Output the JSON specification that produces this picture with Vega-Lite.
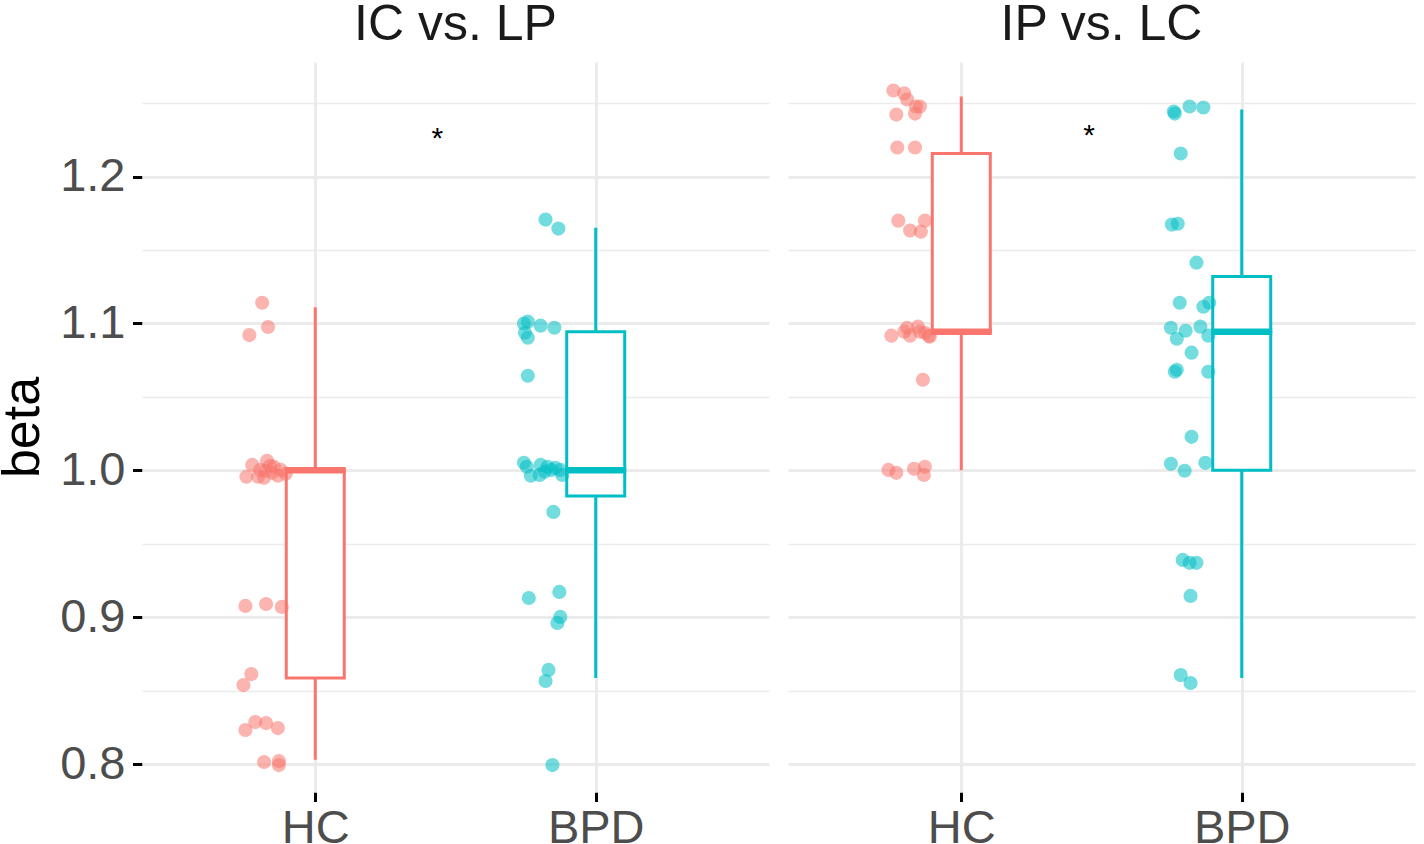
{
  "$schema": "https://vega.github.io/schema/vega-lite/v6.json",
  "background": "white",
  "padding": {"left": -4, "top": 0, "right": 8, "bottom": 0},
  "data": {
    "values": [
      {"kind": "point", "panel": "IC vs. LP", "group": "HC", "x": 0.8105, "beta": 1.1141},
      {"kind": "point", "panel": "IC vs. LP", "group": "HC", "x": 0.8316, "beta": 1.0976},
      {"kind": "point", "panel": "IC vs. LP", "group": "HC", "x": 0.7649, "beta": 1.0921},
      {"kind": "point", "panel": "IC vs. LP", "group": "HC", "x": 0.7544, "beta": 0.9956},
      {"kind": "point", "panel": "IC vs. LP", "group": "HC", "x": 0.7754, "beta": 1.0037},
      {"kind": "point", "panel": "IC vs. LP", "group": "HC", "x": 0.7965, "beta": 0.9956},
      {"kind": "point", "panel": "IC vs. LP", "group": "HC", "x": 0.8035, "beta": 1.0003},
      {"kind": "point", "panel": "IC vs. LP", "group": "HC", "x": 0.8211, "beta": 0.9997},
      {"kind": "point", "panel": "IC vs. LP", "group": "HC", "x": 0.8281, "beta": 1.0065},
      {"kind": "point", "panel": "IC vs. LP", "group": "HC", "x": 0.8386, "beta": 1.0031},
      {"kind": "point", "panel": "IC vs. LP", "group": "HC", "x": 0.8456, "beta": 0.9983},
      {"kind": "point", "panel": "IC vs. LP", "group": "HC", "x": 0.8526, "beta": 1.0024},
      {"kind": "point", "panel": "IC vs. LP", "group": "HC", "x": 0.8667, "beta": 0.9963},
      {"kind": "point", "panel": "IC vs. LP", "group": "HC", "x": 0.8772, "beta": 1.0003},
      {"kind": "point", "panel": "IC vs. LP", "group": "HC", "x": 0.8947, "beta": 0.9976},
      {"kind": "point", "panel": "IC vs. LP", "group": "HC", "x": 0.8175, "beta": 0.9949},
      {"kind": "point", "panel": "IC vs. LP", "group": "HC", "x": 0.7509, "beta": 0.9077},
      {"kind": "point", "panel": "IC vs. LP", "group": "HC", "x": 0.8246, "beta": 0.9090},
      {"kind": "point", "panel": "IC vs. LP", "group": "HC", "x": 0.8807, "beta": 0.9070},
      {"kind": "point", "panel": "IC vs. LP", "group": "HC", "x": 0.7719, "beta": 0.8613},
      {"kind": "point", "panel": "IC vs. LP", "group": "HC", "x": 0.7439, "beta": 0.8538},
      {"kind": "point", "panel": "IC vs. LP", "group": "HC", "x": 0.7509, "beta": 0.8232},
      {"kind": "point", "panel": "IC vs. LP", "group": "HC", "x": 0.7860, "beta": 0.8286},
      {"kind": "point", "panel": "IC vs. LP", "group": "HC", "x": 0.8246, "beta": 0.8279},
      {"kind": "point", "panel": "IC vs. LP", "group": "HC", "x": 0.8667, "beta": 0.8245},
      {"kind": "point", "panel": "IC vs. LP", "group": "HC", "x": 0.8175, "beta": 0.8014},
      {"kind": "point", "panel": "IC vs. LP", "group": "HC", "x": 0.8702, "beta": 0.8020},
      {"kind": "point", "panel": "IC vs. LP", "group": "HC", "x": 0.8702, "beta": 0.7993},
      {"kind": "point", "panel": "IC vs. LP", "group": "BPD", "x": 1.8211, "beta": 1.1707},
      {"kind": "point", "panel": "IC vs. LP", "group": "BPD", "x": 1.8667, "beta": 1.1646},
      {"kind": "point", "panel": "IC vs. LP", "group": "BPD", "x": 1.7439, "beta": 1.1000},
      {"kind": "point", "panel": "IC vs. LP", "group": "BPD", "x": 1.7579, "beta": 1.1012},
      {"kind": "point", "panel": "IC vs. LP", "group": "BPD", "x": 1.7474, "beta": 1.0937},
      {"kind": "point", "panel": "IC vs. LP", "group": "BPD", "x": 1.7579, "beta": 1.0903},
      {"kind": "point", "panel": "IC vs. LP", "group": "BPD", "x": 1.8035, "beta": 1.0985},
      {"kind": "point", "panel": "IC vs. LP", "group": "BPD", "x": 1.8526, "beta": 1.0971},
      {"kind": "point", "panel": "IC vs. LP", "group": "BPD", "x": 1.7579, "beta": 1.0644},
      {"kind": "point", "panel": "IC vs. LP", "group": "BPD", "x": 1.7439, "beta": 1.0051},
      {"kind": "point", "panel": "IC vs. LP", "group": "BPD", "x": 1.7544, "beta": 1.0024},
      {"kind": "point", "panel": "IC vs. LP", "group": "BPD", "x": 1.7684, "beta": 0.9963},
      {"kind": "point", "panel": "IC vs. LP", "group": "BPD", "x": 1.8035, "beta": 1.0037},
      {"kind": "point", "panel": "IC vs. LP", "group": "BPD", "x": 1.8175, "beta": 0.9990},
      {"kind": "point", "panel": "IC vs. LP", "group": "BPD", "x": 1.8281, "beta": 1.0024},
      {"kind": "point", "panel": "IC vs. LP", "group": "BPD", "x": 1.8421, "beta": 1.0003},
      {"kind": "point", "panel": "IC vs. LP", "group": "BPD", "x": 1.8561, "beta": 1.0017},
      {"kind": "point", "panel": "IC vs. LP", "group": "BPD", "x": 1.8737, "beta": 1.0003},
      {"kind": "point", "panel": "IC vs. LP", "group": "BPD", "x": 1.8807, "beta": 0.9969},
      {"kind": "point", "panel": "IC vs. LP", "group": "BPD", "x": 1.8000, "beta": 0.9969},
      {"kind": "point", "panel": "IC vs. LP", "group": "BPD", "x": 1.8491, "beta": 0.9717},
      {"kind": "point", "panel": "IC vs. LP", "group": "BPD", "x": 1.7614, "beta": 0.9131},
      {"kind": "point", "panel": "IC vs. LP", "group": "BPD", "x": 1.8702, "beta": 0.9172},
      {"kind": "point", "panel": "IC vs. LP", "group": "BPD", "x": 1.8737, "beta": 0.9002},
      {"kind": "point", "panel": "IC vs. LP", "group": "BPD", "x": 1.8632, "beta": 0.8961},
      {"kind": "point", "panel": "IC vs. LP", "group": "BPD", "x": 1.8316, "beta": 0.8641},
      {"kind": "point", "panel": "IC vs. LP", "group": "BPD", "x": 1.8211, "beta": 0.8566},
      {"kind": "point", "panel": "IC vs. LP", "group": "BPD", "x": 1.8456, "beta": 0.7993},
      {"kind": "point", "panel": "IP vs. LC", "group": "HC", "x": 0.7579, "beta": 1.2586},
      {"kind": "point", "panel": "IP vs. LC", "group": "HC", "x": 0.7965, "beta": 1.2566},
      {"kind": "point", "panel": "IP vs. LC", "group": "HC", "x": 0.8070, "beta": 1.2525},
      {"kind": "point", "panel": "IP vs. LC", "group": "HC", "x": 0.8386, "beta": 1.2477},
      {"kind": "point", "panel": "IP vs. LC", "group": "HC", "x": 0.8526, "beta": 1.2477},
      {"kind": "point", "panel": "IP vs. LC", "group": "HC", "x": 0.7684, "beta": 1.2422},
      {"kind": "point", "panel": "IP vs. LC", "group": "HC", "x": 0.8351, "beta": 1.2429},
      {"kind": "point", "panel": "IP vs. LC", "group": "HC", "x": 0.7719, "beta": 1.2198},
      {"kind": "point", "panel": "IP vs. LC", "group": "HC", "x": 0.8351, "beta": 1.2198},
      {"kind": "point", "panel": "IP vs. LC", "group": "HC", "x": 0.7754, "beta": 1.1700},
      {"kind": "point", "panel": "IP vs. LC", "group": "HC", "x": 0.8175, "beta": 1.1632},
      {"kind": "point", "panel": "IP vs. LC", "group": "HC", "x": 0.8561, "beta": 1.1625},
      {"kind": "point", "panel": "IP vs. LC", "group": "HC", "x": 0.8702, "beta": 1.1700},
      {"kind": "point", "panel": "IP vs. LC", "group": "HC", "x": 0.7509, "beta": 1.0917},
      {"kind": "point", "panel": "IP vs. LC", "group": "HC", "x": 0.7965, "beta": 1.0944},
      {"kind": "point", "panel": "IP vs. LC", "group": "HC", "x": 0.8070, "beta": 1.0971},
      {"kind": "point", "panel": "IP vs. LC", "group": "HC", "x": 0.8175, "beta": 1.0917},
      {"kind": "point", "panel": "IP vs. LC", "group": "HC", "x": 0.8456, "beta": 1.0978},
      {"kind": "point", "panel": "IP vs. LC", "group": "HC", "x": 0.8526, "beta": 1.0944},
      {"kind": "point", "panel": "IP vs. LC", "group": "HC", "x": 0.8702, "beta": 1.0937},
      {"kind": "point", "panel": "IP vs. LC", "group": "HC", "x": 0.8842, "beta": 1.0917},
      {"kind": "point", "panel": "IP vs. LC", "group": "HC", "x": 0.8877, "beta": 1.0910},
      {"kind": "point", "panel": "IP vs. LC", "group": "HC", "x": 0.8632, "beta": 1.0617},
      {"kind": "point", "panel": "IP vs. LC", "group": "HC", "x": 0.7404, "beta": 1.0003},
      {"kind": "point", "panel": "IP vs. LC", "group": "HC", "x": 0.7684, "beta": 0.9983},
      {"kind": "point", "panel": "IP vs. LC", "group": "HC", "x": 0.8316, "beta": 1.0010},
      {"kind": "point", "panel": "IP vs. LC", "group": "HC", "x": 0.8702, "beta": 1.0024},
      {"kind": "point", "panel": "IP vs. LC", "group": "HC", "x": 0.8667, "beta": 0.9969},
      {"kind": "point", "panel": "IP vs. LC", "group": "BPD", "x": 1.7579, "beta": 1.2443},
      {"kind": "point", "panel": "IP vs. LC", "group": "BPD", "x": 1.7614, "beta": 1.2429},
      {"kind": "point", "panel": "IP vs. LC", "group": "BPD", "x": 1.8140, "beta": 1.2477},
      {"kind": "point", "panel": "IP vs. LC", "group": "BPD", "x": 1.8632, "beta": 1.2470},
      {"kind": "point", "panel": "IP vs. LC", "group": "BPD", "x": 1.7825, "beta": 1.2157},
      {"kind": "point", "panel": "IP vs. LC", "group": "BPD", "x": 1.7509, "beta": 1.1673},
      {"kind": "point", "panel": "IP vs. LC", "group": "BPD", "x": 1.7719, "beta": 1.1679},
      {"kind": "point", "panel": "IP vs. LC", "group": "BPD", "x": 1.8386, "beta": 1.1414},
      {"kind": "point", "panel": "IP vs. LC", "group": "BPD", "x": 1.7789, "beta": 1.1141},
      {"kind": "point", "panel": "IP vs. LC", "group": "BPD", "x": 1.8632, "beta": 1.1114},
      {"kind": "point", "panel": "IP vs. LC", "group": "BPD", "x": 1.8842, "beta": 1.1141},
      {"kind": "point", "panel": "IP vs. LC", "group": "BPD", "x": 1.7474, "beta": 1.0971},
      {"kind": "point", "panel": "IP vs. LC", "group": "BPD", "x": 1.7684, "beta": 1.0896},
      {"kind": "point", "panel": "IP vs. LC", "group": "BPD", "x": 1.8000, "beta": 1.0950},
      {"kind": "point", "panel": "IP vs. LC", "group": "BPD", "x": 1.8526, "beta": 1.0978},
      {"kind": "point", "panel": "IP vs. LC", "group": "BPD", "x": 1.8807, "beta": 1.0917},
      {"kind": "point", "panel": "IP vs. LC", "group": "BPD", "x": 1.8211, "beta": 1.0801},
      {"kind": "point", "panel": "IP vs. LC", "group": "BPD", "x": 1.7614, "beta": 1.0671},
      {"kind": "point", "panel": "IP vs. LC", "group": "BPD", "x": 1.7684, "beta": 1.0685},
      {"kind": "point", "panel": "IP vs. LC", "group": "BPD", "x": 1.8807, "beta": 1.0671},
      {"kind": "point", "panel": "IP vs. LC", "group": "BPD", "x": 1.8211, "beta": 1.0228},
      {"kind": "point", "panel": "IP vs. LC", "group": "BPD", "x": 1.7474, "beta": 1.0044},
      {"kind": "point", "panel": "IP vs. LC", "group": "BPD", "x": 1.7965, "beta": 0.9997},
      {"kind": "point", "panel": "IP vs. LC", "group": "BPD", "x": 1.8702, "beta": 1.0051},
      {"kind": "point", "panel": "IP vs. LC", "group": "BPD", "x": 1.7895, "beta": 0.9390},
      {"kind": "point", "panel": "IP vs. LC", "group": "BPD", "x": 1.8140, "beta": 0.9370},
      {"kind": "point", "panel": "IP vs. LC", "group": "BPD", "x": 1.8386, "beta": 0.9370},
      {"kind": "point", "panel": "IP vs. LC", "group": "BPD", "x": 1.8175, "beta": 0.9145},
      {"kind": "point", "panel": "IP vs. LC", "group": "BPD", "x": 1.7825, "beta": 0.8606},
      {"kind": "point", "panel": "IP vs. LC", "group": "BPD", "x": 1.8175, "beta": 0.8552},
      {"kind": "box", "panel": "IC vs. LP", "group": "HC", "x": 1, "lower": 0.803, "q1": 0.8586, "median": 1.0, "q3": 1.0, "upper": 1.111},
      {"kind": "box", "panel": "IC vs. LP", "group": "BPD", "x": 2, "lower": 0.8586, "q1": 0.9826, "median": 1.0, "q3": 1.0944, "upper": 1.1652},
      {"kind": "box", "panel": "IP vs. LC", "group": "HC", "x": 1, "lower": 1.0, "q1": 1.0944, "median": 1.0944, "q3": 1.2157, "upper": 1.2545},
      {"kind": "box", "panel": "IP vs. LC", "group": "BPD", "x": 2, "lower": 0.8586, "q1": 1.0, "median": 1.0944, "q3": 1.1319, "upper": 1.2457},
      {"kind": "star", "panel": "IC vs. LP", "x": 1.435, "beta": 1.229, "label": "*"},
      {"kind": "star", "panel": "IP vs. LC", "x": 1.456, "beta": 1.231, "label": "*"}
    ]
  },
  "facet": {
    "column": {
      "field": "panel",
      "type": "nominal",
      "sort": ["IC vs. LP", "IP vs. LC"],
      "header": {
        "title": null,
        "labelFontSize": 50,
        "labelFont": "Liberation Sans",
        "labelColor": "#1A1A1A",
        "labelPadding": 12
      }
    }
  },
  "spacing": 19,
  "spec": {
    "width": 627,
    "height": 730,
    "layer": [
      {
        "transform": [{"filter": "datum.kind == 'box'"}],
        "mark": {"type": "rule", "strokeWidth": 3},
        "encoding": {
          "x": {
            "field": "x",
            "type": "quantitative",
            "scale": {"domain": [0.4, 2.6], "nice": false, "zero": false},
            "axis": {
              "title": null,
              "values": [1, 2],
              "labelExpr": "datum.value == 1 ? 'HC' : 'BPD'",
              "gridWidth": 3,
              "labelFlush": false,
              "labelPadding": 4
            }
          },
          "y": {
            "field": "lower",
            "type": "quantitative",
            "scale": {"domain": [0.781, 1.278], "nice": false, "zero": false},
            "axis": {
              "title": "beta",
              "values": [0.8, 0.85, 0.9, 0.95, 1.0, 1.05, 1.1, 1.15, 1.2, 1.25],
              "labelExpr": "abs(datum.value*10 - round(datum.value*10)) < 0.001 ? format(datum.value, '.1f') : ''",
              "gridWidth": {"condition": {"test": "abs(datum.value*10 - round(datum.value*10)) < 0.001", "value": 3}, "value": 1.5},
              "tickOpacity": {"condition": {"test": "abs(datum.value*10 - round(datum.value*10)) < 0.001", "value": 1}, "value": 0},
              "labelOverlap": false,
              "labelFlush": false,
              "labelPadding": 7.5,
              "titlePadding": 10
            }
          },
          "y2": {"field": "upper"},
          "color": {"field": "group", "type": "nominal", "scale": {"domain": ["HC", "BPD"], "range": ["#F8766D", "#00BFC4"]}, "legend": null}
        }
      },
      {
        "transform": [{"filter": "datum.kind == 'box'"}],
        "mark": {"type": "bar", "size": 58, "fill": "white", "strokeWidth": 3},
        "encoding": {
          "x": {"field": "x", "type": "quantitative"},
          "y": {"field": "q1", "type": "quantitative"},
          "y2": {"field": "q3"},
          "stroke": {"field": "group", "type": "nominal", "scale": {"domain": ["HC", "BPD"], "range": ["#F8766D", "#00BFC4"]}, "legend": null}
        }
      },
      {
        "transform": [{"filter": "datum.kind == 'box'"}],
        "mark": {"type": "tick", "orient": "horizontal", "size": 61, "thickness": 6.5, "opacity": 1},
        "encoding": {
          "x": {"field": "x", "type": "quantitative"},
          "y": {"field": "median", "type": "quantitative"},
          "color": {"field": "group", "type": "nominal", "legend": null}
        }
      },
      {
        "transform": [{"filter": "datum.kind == 'point'"}],
        "mark": {"type": "circle", "size": 200, "opacity": 0.55},
        "encoding": {
          "x": {"field": "x", "type": "quantitative"},
          "y": {"field": "beta", "type": "quantitative"},
          "color": {"field": "group", "type": "nominal", "legend": null}
        }
      },
      {
        "transform": [{"filter": "datum.kind == 'star'"}],
        "mark": {"type": "text", "fontSize": 30, "baseline": "middle", "dy": 5, "color": "black", "font": "Liberation Sans"},
        "encoding": {
          "x": {"field": "x", "type": "quantitative"},
          "y": {"field": "beta", "type": "quantitative"},
          "text": {"field": "label"}
        }
      }
    ]
  },
  "config": {
    "font": "Liberation Sans",
    "view": {"stroke": null},
    "axis": {
      "domain": false,
      "grid": true,
      "gridColor": "#EBEBEB",
      "tickColor": "#000000",
      "tickWidth": 3,
      "tickSize": 9.5,
      "labelFontSize": 47,
      "labelColor": "#4D4D4D",
      "labelFont": "Liberation Sans",
      "titleFont": "Liberation Sans",
      "titleFontSize": 52,
      "titleFontWeight": "normal",
      "titleColor": "#000000"
    }
  }
}
